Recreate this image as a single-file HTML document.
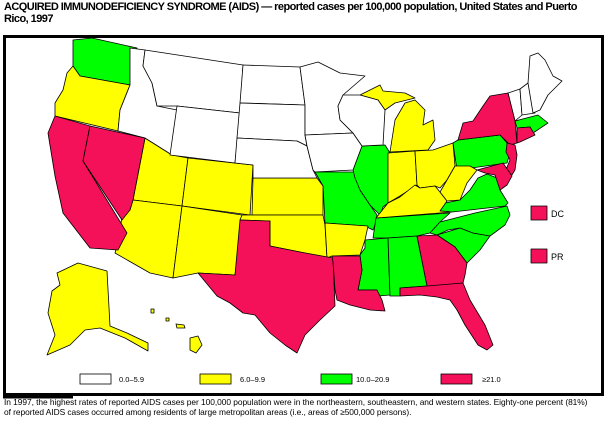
<!DOCTYPE html>
<html><head><meta charset="utf-8"><style>
body{margin:0;background:#fff;width:616px;height:425px;overflow:hidden;font-family:"Liberation Sans",Arial,sans-serif}
.t{position:absolute;left:4px;top:1px;font-size:11px;font-weight:bold;line-height:12px;letter-spacing:-0.55px;white-space:nowrap}
.f{position:absolute;left:4px;top:397px;font-size:8.4px;line-height:10px;letter-spacing:-0.05px;white-space:nowrap}
</style></head><body>
<div class="t">ACQUIRED IMMUNODEFICIENCY SYNDROME (AIDS) — reported cases per 100,000 population, United States and Puerto<br>Rico, 1997</div>
<svg width="616" height="425" style="position:absolute;left:0;top:0" xmlns="http://www.w3.org/2000/svg">
<rect x="4.5" y="36.5" width="598" height="358" fill="none" stroke="#000" stroke-width="3"/>
<g stroke="#000" stroke-width="0.8" stroke-linejoin="round">
<g fill="#00ff00">
<polygon points="73,40 92,38 137,48 130,85 80,76 73,66"/>
<polygon points="315,172 355,172 360,190 370,205 377,215 375,225 373,230 365,226 325,223 323,186"/>
<polygon points="353,170 362,146 385,145 390,153 392,200 383,207 380,215 370,205 360,190 355,178"/>
<polygon points="373,238 376,218 450,213 440,222 430,233 417,236 388,238"/>
<polygon points="365,240 388,238 390,295 378,296 377,290 358,290 362,270 360,255 365,248"/>
<polygon points="388,238 417,236 427,286 400,288 400,296 390,296"/>
<polygon points="437,235 460,228 473,233 490,236 480,250 467,263 455,247"/>
<polygon points="430,233 440,222 475,213 507,206 510,215 505,225 490,236 473,233 460,228 448,230 437,235"/>
<polygon points="440,211 445,203 460,200 470,190 478,178 487,174 497,178 500,190 508,203 505,206 452,212"/>
<polygon points="453,143 458,140 500,135 507,143 510,153 507,163 457,170"/>
<polygon points="515,121 538,115 548,123 533,133 530,127 517,128"/>
</g>
<g fill="#ffff00">
<polygon points="73,66 80,76 130,85 120,110 118,131 55,116 55,103 63,90 67,73"/>
<polygon points="145,138 172,155 188,158 182,206 133,200"/>
<polygon points="188,158 253,165 250,215 182,206"/>
<polygon points="133,200 182,206 173,278 150,273 115,253 118,243 123,210 130,210"/>
<polygon points="182,206 242,215 235,275 198,273 173,278"/>
<polygon points="253,178 317,178 323,186 323,215 252,215"/>
<polygon points="242,215 323,215 325,225 327,258 300,252 270,246 270,221 240,220"/>
<polygon points="325,223 368,226 365,240 360,255 332,256 327,258"/>
<polygon points="360,95 380,85 383,91 405,93 415,98 395,103 385,110 378,100"/>
<polygon points="390,152 395,120 405,103 415,100 425,110 423,125 433,120 435,140 428,150"/>
<polygon points="388,153 415,151 417,185 400,196 388,203"/>
<polygon points="415,151 433,150 453,143 455,166 447,180 440,188 435,186 420,188 417,185"/>
<polygon points="376,218 388,203 400,197 415,185 420,188 435,186 440,192 447,201 440,211 452,212 376,218"/>
<polygon points="455,166 470,166 477,170 467,183 460,200 447,201 440,192 447,180"/>
<polygon points="57,273 78,263 107,271 110,326 127,333 148,343 148,351 125,338 100,328 85,330 70,345 47,355 55,335 48,313 52,291 60,285"/>
<polygon points="190,338 198,336 202,345 196,353 190,350"/>
<polygon points="151,309 154,309 154,313 151,313"/>
<polygon points="166,318 169,318 169,321 166,321"/>
<polygon points="176,324 184,325 185,328 177,328"/>
</g>
<g fill="#fff">
<polygon points="130,48 145,50 143,66 152,83 157,106 177,110 172,155 145,138 118,131 120,110 130,85"/>
<polygon points="145,50 243,65 240,113 177,106 157,106 152,83 143,66"/>
<polygon points="177,106 240,113 235,163 170,155"/>
<polygon points="243,65 300,67 305,105 240,103"/>
<polygon points="240,103 305,105 305,135 307,146 297,141 237,138"/>
<polygon points="237,138 297,141 307,146 313,170 317,178 253,178 253,165 235,163"/>
<polygon points="300,67 318,62 340,73 365,76 343,95 338,106 340,120 353,133 305,135 305,105"/>
<polygon points="305,135 353,133 362,146 353,170 315,172 313,170 307,146"/>
<polygon points="343,95 360,95 378,100 385,110 383,145 362,146 353,133 340,120 338,106"/>
<polygon points="508,93 520,89 522,115 515,121"/>
<polygon points="520,89 528,83 535,113 522,115"/>
<polygon points="528,83 530,56 538,53 545,60 553,76 562,81 548,95 540,110 533,113"/>
</g>
<g fill="#f5105a">
<polygon points="55,116 90,126 83,161 127,233 118,250 90,248 63,213 55,176 48,133"/>
<polygon points="90,126 145,138 133,200 130,210 122,220 83,161"/>
<polygon points="240,220 270,221 270,246 300,252 333,258 335,306 320,320 305,335 297,353 285,345 270,333 255,315 243,313 230,303 217,296 198,273 235,275"/>
<polygon points="332,256 360,256 362,270 358,290 377,290 382,300 385,311 370,310 350,305 337,300 335,290 333,262"/>
<polygon points="417,236 437,235 455,247 467,263 465,275 463,283 430,288 427,286"/>
<polygon points="400,288 427,286 463,283 470,300 485,325 493,345 487,350 478,345 465,325 457,310 450,300 437,297 420,295 400,296"/>
<polygon points="458,140 463,123 473,121 483,106 490,96 508,93 515,121 517,143 510,145 500,135"/>
<polygon points="507,143 515,145 517,155 515,170 510,178 505,172 510,160 506,152"/>
<polygon points="477,170 503,163 512,176 507,185 500,190 495,175 485,173"/>
<polygon points="517,128 530,127 535,135 520,142 517,143"/>
<rect x="531" y="206" width="16" height="14"/>
<rect x="531" y="249" width="16" height="14"/>
</g>
</g>
<g font-size="9" font-family="Liberation Sans,Arial,sans-serif">
<text x="551" y="217">DC</text><text x="551" y="260">PR</text>
</g>
<g stroke="#000" stroke-width="0.8">
<rect x="80" y="374" width="31" height="10" fill="#fff"/>
<rect x="200" y="374" width="31" height="10" fill="#ffff00"/>
<rect x="321" y="374" width="31" height="10" fill="#00ff00"/>
<rect x="441" y="374" width="31" height="10" fill="#f5105a"/>
</g>
<g font-size="7.5" font-family="Liberation Sans,Arial,sans-serif">
<text x="119" y="382">0.0–5.9</text><text x="240" y="382">6.0–9.9</text><text x="356" y="382">10.0–20.9</text><text x="482" y="382">≥21.0</text>
</g>
<rect x="3" y="396" width="70" height="2.5" fill="#000"/>
</svg>
<div class="f">In 1997, the highest rates of reported AIDS cases per 100,000 population were in the northeastern, southeastern, and western states. Eighty-one percent (81%)<br>of reported AIDS cases occurred among residents of large metropolitan areas (i.e., areas of ≥500,000 persons).</div>
</body></html>
